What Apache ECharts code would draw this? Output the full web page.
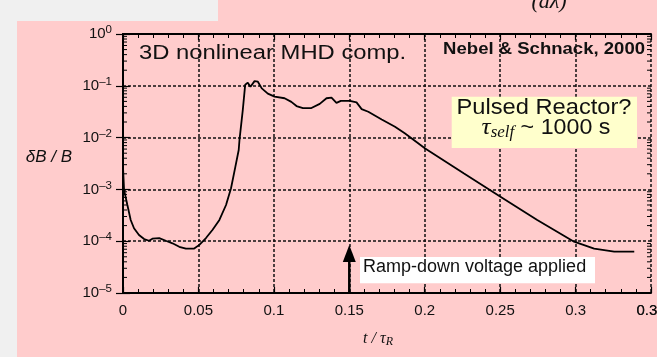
<!DOCTYPE html>
<html>
<head>
<meta charset="utf-8">
<script src="https://cdn.jsdelivr.net/npm/echarts@6/dist/echarts.min.js"></script>
<style>
html,body{margin:0;padding:0;background:#f0f0f0;}
#chart{width:657px;height:357px;}
</style>
</head>
<body>
<div id="chart"></div>
<script>
// time t / tau_R
const tValues = [0, 0.0007, 0.0029, 0.0051, 0.0073, 0.0106, 0.014, 0.0173, 0.0195, 0.024,
  0.0284, 0.0328, 0.0373, 0.0417, 0.0472, 0.0506, 0.055, 0.0594, 0.0639, 0.0683,
  0.0716, 0.0745, 0.0767, 0.0772, 0.0794, 0.081, 0.0827, 0.0845, 0.0872, 0.0894,
  0.092, 0.096, 0.1005, 0.1071, 0.1116, 0.115, 0.1193, 0.1249, 0.1304, 0.1349,
  0.1382, 0.1415, 0.1444, 0.1504, 0.1548, 0.1582, 0.1626, 0.1715, 0.1803, 0.187,
  0.2003, 0.2258, 0.2502, 0.2746, 0.299, 0.3123, 0.3256, 0.3389];
// deltaB / B
const dBValues = [2.69e-3, 9.8e-4, 5.0e-4, 2.57e-4, 1.78e-4, 1.32e-4, 1.10e-4, 1.02e-4, 1.12e-4, 1.15e-4,
  1.02e-4, 9.1e-5, 7.8e-5, 7.2e-5, 7.2e-5, 8.5e-5, 1.15e-4, 1.66e-4, 2.57e-4, 5.0e-4,
  1.05e-3, 2.75e-3, 5.75e-3, 8.9e-3, 3.39e-2, 0.105, 0.115, 0.0955, 0.123, 0.120,
  0.0891, 0.0708, 0.0617, 0.0575, 0.049, 0.0407, 0.0372, 0.0372, 0.0447, 0.0575,
  0.0589, 0.0468, 0.0513, 0.0513, 0.0479, 0.0355, 0.0316, 0.0224, 0.0162, 0.0120,
  6.17e-3, 2.04e-3, 7.24e-4, 2.57e-4, 9.8e-5, 7.2e-5, 6.3e-5, 6.3e-5];
// axis
const xMin = 0, xMax = 0.35, xInterval = 0.05;
const xLastTickLabel = '0.35';
const yMin = 1e-5, yMax = 1;
const yExponentLabels = {'0': '0', '-1': '–1', '-2': '–2', '-3': '–3', '-4': '–4', '-5': '–5'};
// annotation: ramp-down voltage at t=0.15
const rampT = 0.15;
const rampArrowTop = 8.45e-5;

// log minor tick positions (2..9 per decade)
const minorTicks = [];
for (let d = -5; d < 0; d++) {
  for (let k = 2; k <= 9; k++) minorTicks.push([xMin, k * Math.pow(10, d)]);
}

const chart = echarts.init(document.getElementById('chart'), null, {renderer: 'canvas'});
const sans = 'Liberation Sans, Arial, sans-serif';
const serif = 'Liberation Serif, Times New Roman, serif';

const option = {
  backgroundColor: '#f0f0f0',
  animation: false,
  grid: {left: 123, right: 6, top: 34, bottom: 64, containLabel: false, outerBoundsMode: 'none'},
  xAxis: [{
    type: 'value', min: xMin, max: xMax, interval: xInterval,
    axisLine: {show: true, lineStyle: {color: '#000', width: 2}},
    axisTick: {show: true, inside: true, length: 6, lineStyle: {color: '#000', width: 1.2}},
    minorTick: {show: true, splitNumber: 5, length: 4, lineStyle: {color: '#000', width: 1}},
    axisLabel: {margin: 10, color: '#111', fontSize: 15, fontFamily: sans},
    splitLine: {show: true, lineStyle: {color: '#111', width: 1.5, type: [3, 2]}}
  }, {
    type: 'value', position: 'top', min: xMin, max: xMax, interval: xInterval,
    axisLine: {show: true, lineStyle: {color: '#000', width: 2}},
    axisTick: {show: true, inside: true, length: 6, lineStyle: {color: '#000', width: 1.2}},
    minorTick: {show: true, splitNumber: 5, length: 4, lineStyle: {color: '#000', width: 1}},
    axisLabel: {show: false},
    splitLine: {show: false}
  }],
  yAxis: [{
    type: 'log', logBase: 10, min: yMin, max: yMax, splitNumber: 5,
    axisLine: {show: true, lineStyle: {color: '#000', width: 2}},
    axisTick: {show: true, inside: true, length: 7, lineStyle: {color: '#000', width: 1.2}},
    axisLabel: {
      margin: 11, color: '#111', showMaxLabel: true, showMinLabel: true,
      formatter: function (v) {
        const e = Math.round(Math.log10(v));
        return '{b|10}{s|' + yExponentLabels[String(e)] + '}';
      },
      rich: {
        b: {fontSize: 15, lineHeight: 20, fontFamily: sans, color: '#111'},
        s: {fontSize: 11.5, lineHeight: 12, fontFamily: sans, color: '#111', verticalAlign: 'top'}
      }
    },
    splitLine: {show: true, lineStyle: {color: '#111', width: 1.5, type: [3, 2]}}
  }, {
    type: 'log', logBase: 10, min: yMin, max: yMax, splitNumber: 5, position: 'right',
    axisLine: {show: true, lineStyle: {color: '#000', width: 2}},
    axisTick: {show: true, inside: true, length: 7, lineStyle: {color: '#000', width: 1.2}},
    axisLabel: {show: false},
    splitLine: {show: false}
  }],
  series: [{
    type: 'line',
    data: tValues.map((t, i) => [t, dBValues[i]]),
    showSymbol: false, symbol: 'none',
    lineStyle: {color: '#000', width: 1.8},
    z: 5
  }, {
    type: 'custom',
    silent: true,
    data: minorTicks,
    renderItem: function (params, api) {
      const v = api.value(1);
      const l = api.coord([xMin, v]);
      const r = api.coord([xMax, v]);
      return {type: 'group', children: [
        {type: 'line', shape: {x1: l[0], y1: l[1], x2: l[0] + 4, y2: l[1]}, style: {stroke: '#000', lineWidth: 1}},
        {type: 'line', shape: {x1: r[0] - 4, y1: r[1], x2: r[0], y2: r[1]}, style: {stroke: '#000', lineWidth: 1}}
      ]};
    },
    z: 4
  }, {
    type: 'custom',
    silent: true,
    data: [[rampT, yMin, rampArrowTop]],
    renderItem: function (params, api) {
      const base = api.coord([api.value(0), api.value(1)]);
      const tip = api.coord([api.value(0), api.value(2)]);
      const hh = 17, hw = 6.5;
      return {type: 'group', children: [
        {type: 'line', shape: {x1: base[0], y1: base[1], x2: tip[0], y2: tip[1] + hh - 1}, style: {stroke: '#000', lineWidth: 2.5}},
        {type: 'polygon', shape: {points: [[tip[0], tip[1]], [tip[0] - hw, tip[1] + hh], [tip[0] + hw, tip[1] + hh]]}, style: {fill: '#000'}}
      ]};
    },
    z: 6
  }]
};
chart.setOption(option);

// last x tick label (0.35) half outside the canvas: placed through the axis scale
const lastX = chart.convertToPixel({xAxisIndex: 0}, xMax);
const axisY = chart.convertToPixel({yAxisIndex: 0}, yMin);

chart.setOption({
  graphic: {elements: [
    {type: 'rect', shape: {x: 17, y: 21, width: 640, height: 336}, style: {fill: '#ffcccc'}, z: -10, silent: true},
    {type: 'rect', shape: {x: 218, y: 0, width: 439, height: 21}, style: {fill: '#ffcccc'}, z: -10, silent: true},
    {type: 'text', x: lastX, y: axisY + 10, silent: true,
      style: {text: xLastTickLabel, fontSize: 15, fontFamily: sans, fill: '#111', align: 'center', verticalAlign: 'top'}},
    {type: 'text', x: 549, y: 13, z: -5, silent: true,
      style: {text: '(aλ)', fontSize: 22, fontStyle: 'italic', fontFamily: serif, fill: '#111', align: 'center', verticalAlign: 'bottom'}},
    {type: 'text', x: 139, y: 53.7, scaleX: 1.19, z: -5, silent: true,
      style: {text: '3D nonlinear MHD comp.', fontSize: 20, fontFamily: sans, fill: '#111', align: 'left', verticalAlign: 'middle'}},
    {type: 'text', x: 645, y: 49.2, scaleX: 1.09, z: -5, silent: true,
      style: {text: 'Nebel & Schnack, 2000', fontSize: 17, fontWeight: 'bold', fontFamily: sans, fill: '#111', align: 'right', verticalAlign: 'middle'}},
    {type: 'text', x: 72, y: 157, silent: true,
      style: {text: 'δB / B', fontSize: 17, fontStyle: 'italic', fontFamily: sans, fill: '#111', align: 'right', verticalAlign: 'middle'}},
    {type: 'text', x: 378, y: 339, silent: true,
      style: {text: '{i|t / τ}{sub|R}', align: 'center', verticalAlign: 'middle',
        rich: {
          i: {fontSize: 16, lineHeight: 18, fontStyle: 'italic', fontFamily: serif, fill: '#111'},
          sub: {fontSize: 12, lineHeight: 12, fontStyle: 'italic', fontFamily: serif, fill: '#111', verticalAlign: 'bottom'}
        }}},
    {type: 'rect', shape: {x: 451.7, y: 96.7, width: 185.3, height: 51.3}, style: {fill: '#ffffcc'}, z: 100, silent: true},
    {type: 'text', x: 544, y: 108.2, scaleX: 1.076, z: 101, silent: true,
      style: {text: 'Pulsed Reactor?', fontSize: 22, fontFamily: sans, fill: '#111', align: 'center', verticalAlign: 'middle'}},
    {type: 'text', x: 546, y: 128, scaleX: 1.056, z: 101, silent: true,
      style: {text: '{t|τ}{sub|self}{n| ~ 1000 s}', align: 'center', verticalAlign: 'middle',
        rich: {
          t: {fontSize: 24, lineHeight: 26, fontStyle: 'italic', fontFamily: serif, fill: '#111'},
          sub: {fontSize: 16, lineHeight: 16, fontStyle: 'italic', fontFamily: serif, fill: '#111', verticalAlign: 'bottom'},
          n: {fontSize: 22, lineHeight: 26, fontFamily: sans, fill: '#111'}
        }}},
    {type: 'rect', shape: {x: 360, y: 257, width: 235, height: 26.3}, style: {fill: '#ffffff'}, z: 100, silent: true},
    {type: 'text', x: 363, y: 267.2, z: 101, silent: true,
      style: {text: 'Ramp-down voltage applied', fontSize: 18, fontFamily: sans, fill: '#111', align: 'left', verticalAlign: 'middle'}}
  ]}
});
</script>
</body>
</html>
